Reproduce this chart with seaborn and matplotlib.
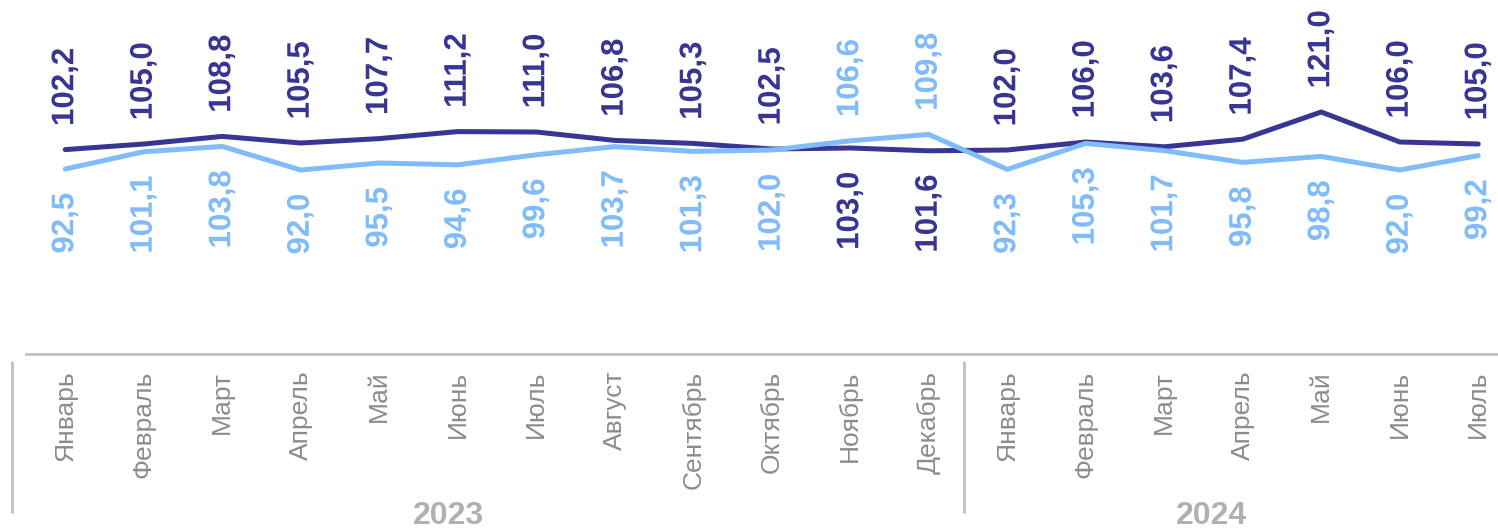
import numpy as np
import pandas as pd
import seaborn as sns
import matplotlib.pyplot as plt
import matplotlib.patheffects as pe
from matplotlib.transforms import blended_transform_factory
from matplotlib.lines import Line2D

# Данные
months = ['Январь', 'Февраль', 'Март', 'Апрель', 'Май', 'Июнь', 'Июль', 'Август',
          'Сентябрь', 'Октябрь', 'Ноябрь', 'Декабрь',
          'Январь', 'Февраль', 'Март', 'Апрель', 'Май', 'Июнь', 'Июль']
years = ['2023', '2024']
dark_values = [102.2, 105.0, 108.8, 105.5, 107.7, 111.2, 111.0, 106.8, 105.3, 102.5, 103.0, 101.6,
               102.0, 106.0, 103.6, 107.4, 121.0, 106.0, 105.0]
light_values = [92.5, 101.1, 103.8, 92.0, 95.5, 94.6, 99.6, 103.7, 101.3, 102.0, 106.6, 109.8,
                92.3, 105.3, 101.7, 95.8, 98.8, 92.0, 99.2]

DARK = '#383593'
LIGHT = '#80BCF9'

sns.set_style('white')
plt.rcParams['font.family'] = ['Liberation Sans', 'DejaVu Sans']

df = pd.DataFrame({
    'x': list(range(len(months))) * 2,
    'value': dark_values + light_values,
    'series': ['dark'] * len(months) + ['light'] * len(months),
})

fig = plt.figure(figsize=(14.98, 5.31), dpi=100)
ax = fig.add_axes([26 / 1498, 177 / 531, 1472 / 1498, 354 / 531])

sns.lineplot(data=df, x='x', y='value', hue='series', palette={'dark': DARK, 'light': LIGHT},
             linewidth=3.6, legend=False, ax=ax, sort=False)

ax.set_ylim(0, 177)
ax.set_xlim(-0.5, -0.5 + 1472 / 78.5)
ax.set_yticks([])
ax.set_xlabel('')
ax.set_ylabel('')

# подписи значений
stroke = [pe.withStroke(linewidth=3, foreground='white')]
for i, (d, l) in enumerate(zip(dark_values, light_values)):
    for v, c, up in [(d, DARK, d >= l), (l, LIGHT, l > d)]:
        ax.annotate(f'{v:.1f}'.replace('.', ','), (i, v),
                    xytext=(0, 17 if up else -17), textcoords='offset points',
                    rotation=90, ha='center', va='bottom' if up else 'top',
                    fontsize=22.5, fontweight='bold', color=c, path_effects=stroke)

# ось X
for s in ['top', 'left', 'right']:
    ax.spines[s].set_visible(False)
ax.spines['bottom'].set_color('#C0C0C0')
ax.spines['bottom'].set_linewidth(2)
ax.set_xticks(range(len(months)))
ax.set_xticklabels(months, rotation=90, fontsize=19, color='#8C8C8C')
ax.tick_params(axis='x', length=0, pad=12)

# разделители и годы
trans = blended_transform_factory(ax.transData, fig.transFigure)
for xs in [-0.675, 11.45]:
    fig.add_artist(Line2D([xs, xs], [19 / 531, 169 / 531], transform=trans,
                          color='#C0C0C0', linewidth=2))
for xs, yr in zip([4.88, 14.6], years):
    ax.text(xs, 15 / 531, yr, transform=trans, ha='center', va='center',
            fontsize=23, fontweight='bold', color='#B0B0B0')

fig.savefig('out.png', dpi=100)
